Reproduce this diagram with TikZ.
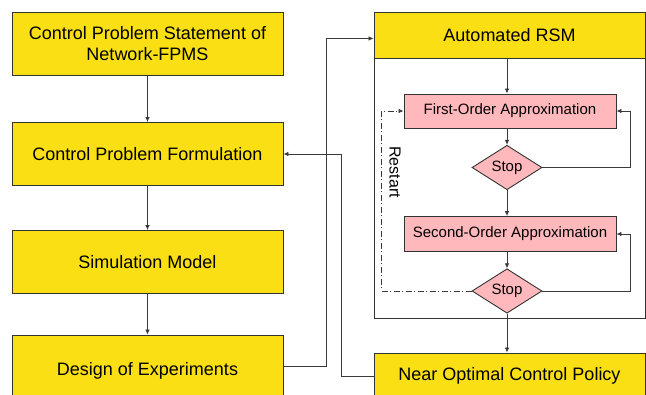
\documentclass[tikz,border=0pt]{standalone}
\usepackage{fontspec}
\setmainfont{Liberation Sans}
\usetikzlibrary{shapes.geometric,arrows.meta,calc}
\definecolor{boxyellow}{HTML}{F9DF14}
\definecolor{boxpink}{HTML}{FFB8BC}
\definecolor{edgegray}{HTML}{333333}
\definecolor{linegray}{HTML}{3A3A3A}
\begin{document}
\begin{tikzpicture}[x=1pt,y=-1pt,
  ybox/.style={draw=edgegray, line width=0.9pt, fill=boxyellow, minimum width=271pt, align=center, font=\fontsize{18}{21}\selectfont, inner sep=0pt},
  pbox/.style={draw=edgegray, line width=0.9pt, fill=boxpink, minimum width=212pt, font=\fontsize{15}{18}\selectfont, inner sep=0pt},
  diam/.style={diamond, draw=edgegray, line width=0.9pt, fill=boxpink, minimum width=70pt, minimum height=39pt, inner sep=0pt, font=\fontsize{15}{18}\selectfont},
  conn/.style={draw=linegray, line width=0.8pt, -{Latex[length=5pt,width=4.5pt]}},
  restartline/.style={draw=linegray, line width=0.8pt, dash pattern=on 6pt off 2.5pt on 1pt off 2.5pt, -{Latex[length=5pt,width=4.5pt]}}
]
\useasboundingbox (0,0) rectangle (646,395);
\begin{scope}
\clip (0,0) rectangle (646,395);
% left column
\node[ybox, minimum height=63pt] (stmt) at (147.5,44) {Control Problem Statement of\\Network-FPMS};
\node[ybox, minimum height=63pt] (form) at (147.5,154) {Control Problem Formulation};
\node[ybox, minimum height=63pt] (sim) at (147.5,262) {Simulation Model};
\node[ybox, minimum height=72pt] (doe) at (147.5,371) {Design of Experiments};
% right column
\node[draw=edgegray, line width=0.9pt, minimum width=271pt, minimum height=260pt, inner sep=0pt] (outer) at (509.5,188) {};
\node[ybox, minimum height=46pt] (auto) at (509.5,35.5) {Automated RSM};
\node[pbox, minimum height=34pt] (foa) at (510,111) {First-Order Approximation};
\node[diam] (s1) at (507,167.5) {Stop};
\node[pbox, minimum height=35pt] (soa) at (510,234) {Second-Order Approximation};
\node[diam] (s2) at (507,291) {Stop};
\node[ybox, minimum height=46pt] (near) at (509.5,376) {Near Optimal Control Policy};
\node[rotate=-90, font=\fontsize{16}{19}\selectfont] (restart) at (395,172) {Restart};
% connectors
\draw[conn] (stmt) -- (form);
\draw[conn] (form) -- (sim);
\draw[conn] (sim) -- (doe);
\draw[conn] (auto.south -| s1) -- (foa.north -| s1);
\draw[conn] (foa.south -| s1) -- (s1.north);
\draw[conn] (s1.south) -- (soa.north -| s1);
\draw[conn] (soa.south -| s1) -- (s2.north);
\draw[conn] (s2.south) -- (near.north -| s2);
\draw[conn] (s1.east) -- ++(88,0) |- (foa.east);
\draw[conn] (s2.east) -- ++(88,0) |- (soa.east);
\draw[restartline] (s2.west) -| ($(foa.west)+(-22,0)$) -- (foa.west);
\draw[conn] ($(doe.east)+(0,-5)$) -- ++(43,0) |- ($(auto.west)+(0,3)$);
\draw[conn] (near.west) -- ++(-32,0) |- (form.east);
\end{scope}
\end{tikzpicture}
\end{document}
